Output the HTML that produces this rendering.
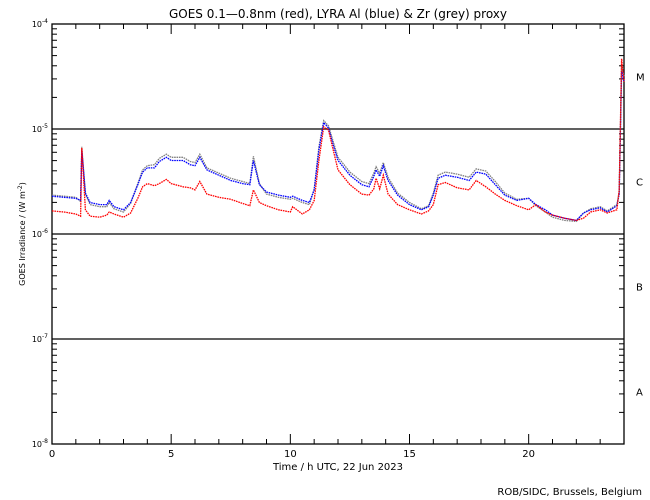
<!DOCTYPE html>
<html><head><meta charset="utf-8"><style>
body{margin:0;background:#fff;}
svg{display:block;font-family:"DejaVu Sans","Liberation Sans",sans-serif;}
</style></head><body>
<svg id="chart" width="650" height="500" viewBox="0 0 650 500"></svg>
<script>
const hours = [0,0.5,1.0,1.2,1.25,1.4,1.6,2.0,2.3,2.4,2.6,3.0,3.3,3.6,3.8,4.0,4.3,4.5,4.8,5.0,5.5,5.8,6.0,6.2,6.5,7.0,7.5,8.0,8.3,8.45,8.7,9.0,9.5,10.0,10.1,10.5,10.8,11.0,11.2,11.4,11.6,11.8,12.0,12.5,13.0,13.3,13.5,13.6,13.75,13.9,14.1,14.5,15.0,15.5,15.8,16.0,16.2,16.5,17.0,17.5,17.8,18.2,18.6,19.0,19.5,20.0,20.3,20.7,21.0,21.5,22.0,22.3,22.6,23.0,23.3,23.7,23.8,23.9,24.0];
// log10 irradiance (W m^-2)
const goesRed = [-5.78,-5.79,-5.81,-5.83,-5.18,-5.77,-5.83,-5.84,-5.82,-5.79,-5.81,-5.84,-5.80,-5.66,-5.55,-5.52,-5.54,-5.52,-5.48,-5.52,-5.55,-5.56,-5.58,-5.50,-5.62,-5.65,-5.67,-5.71,-5.73,-5.58,-5.70,-5.73,-5.77,-5.79,-5.74,-5.81,-5.77,-5.68,-5.30,-4.98,-5.01,-5.20,-5.39,-5.53,-5.62,-5.63,-5.57,-5.47,-5.57,-5.44,-5.62,-5.72,-5.77,-5.81,-5.78,-5.72,-5.53,-5.51,-5.56,-5.58,-5.49,-5.55,-5.62,-5.68,-5.73,-5.77,-5.72,-5.79,-5.82,-5.85,-5.87,-5.85,-5.79,-5.77,-5.80,-5.77,-5.58,-4.33,-4.55];
const lyraAl = [-5.64,-5.65,-5.66,-5.68,-5.20,-5.61,-5.70,-5.72,-5.72,-5.68,-5.74,-5.77,-5.70,-5.53,-5.41,-5.37,-5.37,-5.31,-5.27,-5.30,-5.30,-5.34,-5.35,-5.27,-5.39,-5.44,-5.49,-5.52,-5.53,-5.30,-5.53,-5.60,-5.63,-5.65,-5.64,-5.68,-5.70,-5.58,-5.20,-4.94,-4.99,-5.15,-5.30,-5.44,-5.53,-5.55,-5.45,-5.39,-5.45,-5.35,-5.49,-5.63,-5.72,-5.77,-5.74,-5.63,-5.47,-5.44,-5.46,-5.49,-5.41,-5.43,-5.53,-5.63,-5.68,-5.66,-5.72,-5.77,-5.82,-5.85,-5.87,-5.80,-5.77,-5.75,-5.79,-5.73,-5.62,-4.45,-4.55];
const lyraZr = [-5.63,-5.64,-5.65,-5.69,-5.17,-5.62,-5.72,-5.74,-5.74,-5.70,-5.76,-5.79,-5.71,-5.52,-5.39,-5.35,-5.34,-5.28,-5.24,-5.27,-5.27,-5.31,-5.32,-5.24,-5.37,-5.42,-5.47,-5.50,-5.52,-5.26,-5.52,-5.62,-5.65,-5.67,-5.66,-5.70,-5.72,-5.57,-5.17,-4.92,-4.97,-5.12,-5.27,-5.41,-5.50,-5.52,-5.42,-5.36,-5.42,-5.32,-5.46,-5.61,-5.70,-5.76,-5.73,-5.61,-5.44,-5.41,-5.43,-5.46,-5.38,-5.40,-5.50,-5.61,-5.67,-5.66,-5.73,-5.79,-5.84,-5.87,-5.88,-5.80,-5.76,-5.74,-5.78,-5.72,-5.60,-4.40,-4.50];
const yTickLabels = ["-8","-7","-6","-5","-4"];
const classLabels = ["A","B","C","M"];

const svg = document.getElementById('chart');
const NS = 'http://www.w3.org/2000/svg';
const X0=52, X1=624, Y0=444, Y1=24;
const xs = h => X0 + (X1-X0)*h/24;
function ys2(l){ return Y0 - (Y0-Y1)*(l+8)/4; }
function mk(tag, attrs, parent){ const e=document.createElementNS(NS,tag); for(const k in attrs) e.setAttribute(k,attrs[k]); (parent||svg).appendChild(e); return e; }

let t = mk('text',{x:338,y:18,'text-anchor':'middle','font-size':12,fill:'#000'});


t.textContent='GOES 0.1\u20140.8nm (red), LYRA Al (blue) & Zr (grey) proxy';

let fr = mk('rect',{x:X0,y:Y1,width:X1-X0,height:Y0-Y1,fill:'none',stroke:'#000','stroke-width':1.3});



for(let d=-8; d<=-4; d++){
  const y=ys2(d);
  if(d>-8 && d<-4){
    const l=mk('line',{x1:X0,x2:X1,y1:y,y2:y,stroke:'#000','stroke-width':1.3});
    
    
  }
  const lab=mk('text',{x:48,y:y+3,'text-anchor':'end','font-size':8,fill:'#000'});
  
  
  lab.innerHTML='10<tspan dy="-4" font-size="6">'+yTickLabels[d+8]+'</tspan>';
  mk('line',{x1:X0,x2:X0+10,y1:y,y2:y,stroke:'#000'});
  mk('line',{x1:X1,x2:X1-10,y1:y,y2:y,stroke:'#000'});
  if(d<-4){
    for(let m=2;m<=9;m++){
      const ym=ys2(d+Math.log10(m));
      mk('line',{x1:X0,x2:X0+5,y1:ym,y2:ym,stroke:'#000'});
      mk('line',{x1:X1,x2:X1-5,y1:ym,y2:ym,stroke:'#000'});
    }
    const c=mk('text',{x:636,y:ys2(d+0.5)+4,'font-size':10,fill:'#000'});
    
    
    c.textContent=classLabels[d+8];
  }
}
for(let h=0;h<=24;h++){
  const x=xs(h), len=(h%5===0)?10:5;
  mk('line',{x1:x,x2:x,y1:Y0,y2:Y0-len,stroke:'#000'});
  mk('line',{x1:x,x2:x,y1:Y1,y2:Y1+len,stroke:'#000'});
  if(h%5===0 && h<24){
    const l=mk('text',{x:x,y:457,'text-anchor':'middle','font-size':10,fill:'#000'});
    
    
    l.textContent=h;
  }
}
let xt=mk('text',{x:338,y:470,'text-anchor':'middle','font-size':10,fill:'#000'});


xt.textContent='Time / h UTC, 22 Jun 2023';
let yt=mk('text',{x:0,y:0,'text-anchor':'middle','font-size':8,fill:'#000',transform:'translate(25,234) rotate(-90)'});


yt.innerHTML='GOES Irradiance / (W m<tspan dy="-3" font-size="6">-2</tspan><tspan dy="3">)</tspan>';
let cr=mk('text',{x:642,y:495,'text-anchor':'end','font-size':10,fill:'#000'});


cr.textContent='ROB/SIDC, Brussels, Belgium';

function series(vals,color,name){
  const pts=hours.map((h,i)=>xs(h).toFixed(1)+','+ys2(vals[i]).toFixed(1)).join(' ');
  const p=mk('polyline',{points:pts,fill:'none',stroke:color,'stroke-width':1.3,'stroke-dasharray':'1.6 0.8'});
  
  
}
series(lyraZr,'#808080','lyra-zr-series');
series(lyraAl,'#0000ff','lyra-al-series');
series(goesRed,'#ff0000','goes-series');
</script>
</body></html>
